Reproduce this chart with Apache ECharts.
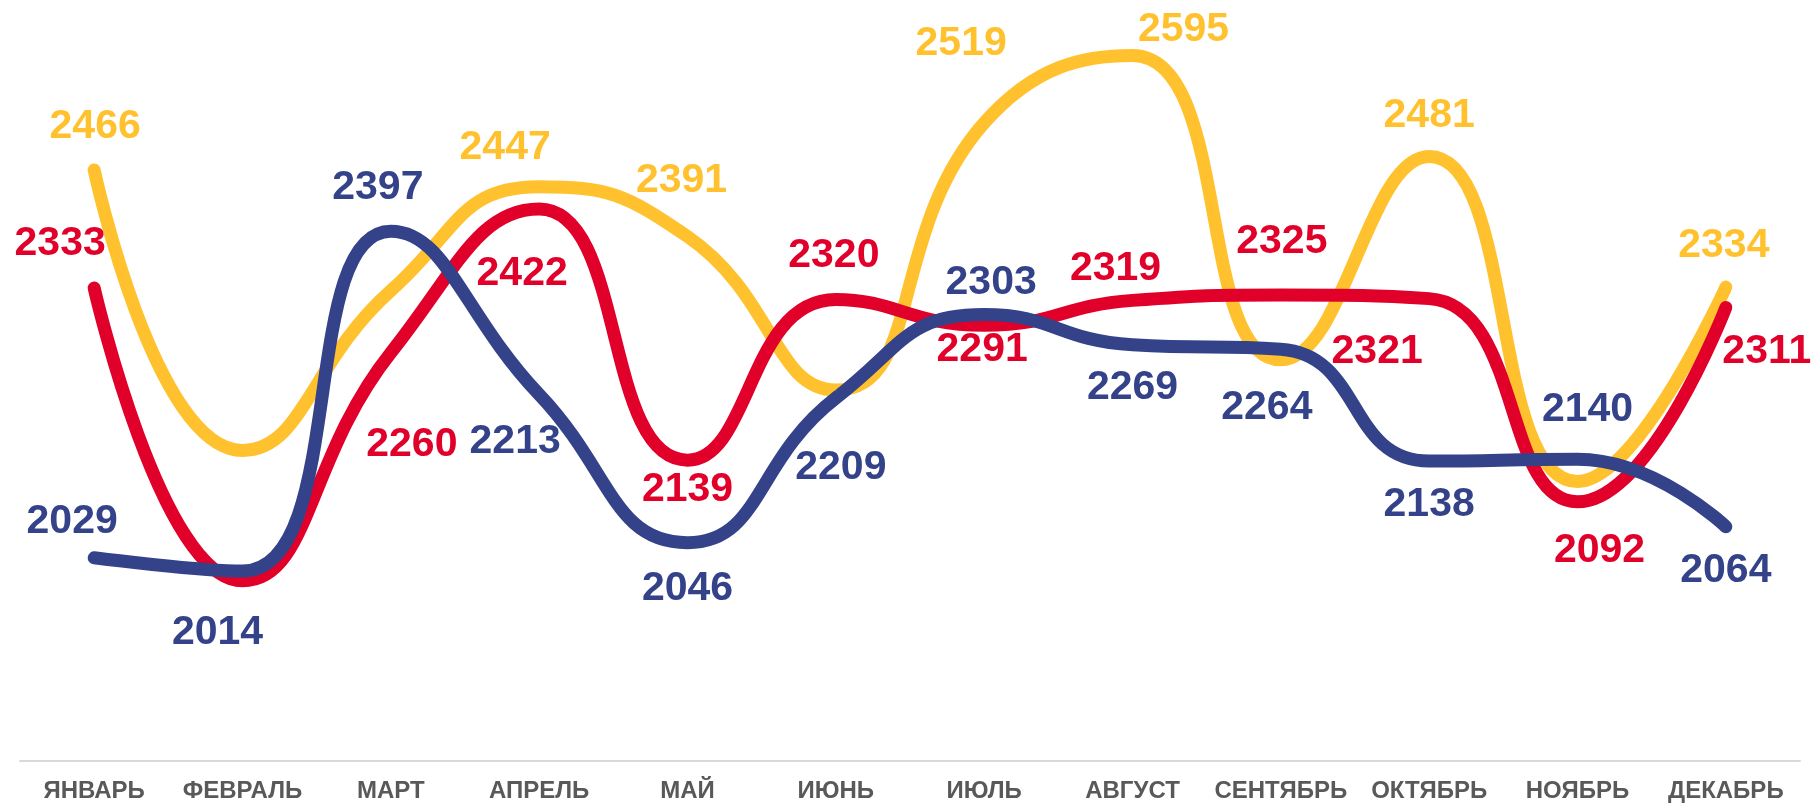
<!DOCTYPE html>
<html>
<head>
<meta charset="utf-8">
<style>
  html, body { margin: 0; padding: 0; background: #fff; }
  #chart { width: 1811px; height: 803px; }
</style>
<script src="https://cdn.jsdelivr.net/npm/echarts@6/dist/echarts.min.js"></script>
</head>
<body>
<div id="chart"></div>
<script>
// месяцы
const months = ["ЯНВАРЬ", "ФЕВРАЛЬ", "МАРТ", "АПРЕЛЬ", "МАЙ", "ИЮНЬ", "ИЮЛЬ", "АВГУСТ", "СЕНТЯБРЬ", "ОКТЯБРЬ", "НОЯБРЬ", "ДЕКАБРЬ"];
// значения по линиям
const yellowValues = [2466, 2150, 2330, 2447, 2391, 2218, 2519, 2595, 2252, 2481, 2115, 2334];
const redValues = [2333, 2003, 2260, 2422, 2139, 2320, 2291, 2319, 2325, 2321, 2092, 2311];
const blueValues = [2029, 2014, 2397, 2213, 2046, 2209, 2303, 2269, 2264, 2138, 2140, 2064];
// какие подписи видны (у жёлтой линии часть скрыта, у красной нет февраля)
const yellowShown = [true, false, false, true, true, false, true, true, false, true, false, true];
const redShown = [true, false, true, true, true, true, true, true, true, true, true, true];

// смещения подписей относительно точки, px
const yellowOffsets = [[1, -43], [0, 0], [0, 0], [-34, -39], [-6, -56], [0, 0], [-23, -79], [51, -26], [0, 0], [0, -41], [0, 0], [-2, -41]];
const redOffsets = [[-34, -44], [0, 40], [21, 92], [-17, 65], [0, 30], [-2, -44], [-2, 24], [-17, -32], [1, -53], [-52, 53], [22, 49], [41, 44]];
const blueOffsets = [[-22, -36], [-25, 62], [-13, -43], [-24, 47], [0, 46], [5, 70], [7, -32], [0, 43], [-14, 58], [0, 44], [10, -50], [0, 44]];

const chart = echarts.init(document.getElementById("chart"));

function makeSeries(name, values, offsets, color, shown) {
  return {
    name: name,
    type: "line",
    smooth: 0.5,
    symbol: "circle",
    symbolSize: 1,
    itemStyle: { color: color },
    lineStyle: { width: 13, color: color, cap: "round", join: "round" },
    label: {
      show: true,
      position: "inside",
      color: color,
      fontSize: 41,
      fontWeight: "bold",
      fontFamily: "Liberation Sans, Arial, sans-serif"
    },
    emphasis: { disabled: true },
    data: values.map((v, i) => ({
      value: v,
      label: { show: shown ? shown[i] : true, offset: offsets[i] }
    }))
  };
}

const option = {
  animation: false,
  grid: { left: 20, right: 11, top: 51, bottom: 40, containLabel: false },
  xAxis: {
    type: "category",
    data: months,
    boundaryGap: true,
    axisLine: { lineStyle: { color: "#D9D9D9", width: 2 } },
    axisTick: { show: false },
    axisLabel: {
      color: "#595959",
      fontSize: 24,
      fontWeight: "bold",
      fontFamily: "Liberation Sans, Arial, sans-serif",
      margin: 18,
      interval: 0
    }
  },
  yAxis: {
    type: "value",
    min: 1800,
    max: 2600,
    show: false,
    splitLine: { show: false }
  },
  series: [
    makeSeries("yellow", yellowValues, yellowOffsets, "#FFC22E", yellowShown),
    makeSeries("red", redValues, redOffsets, "#E1002A", redShown),
    makeSeries("blue", blueValues, blueOffsets, "#344389", null)
  ]
};

chart.setOption(option);
</script>
</body>
</html>
